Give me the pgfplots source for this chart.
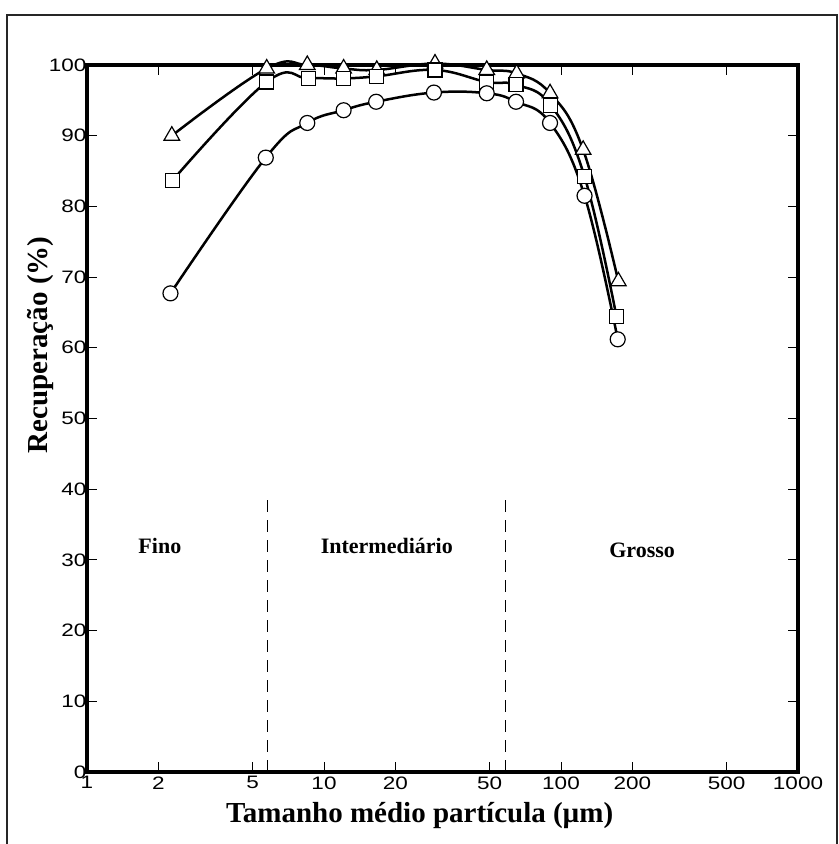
\documentclass[border=0pt]{standalone}
\usepackage{pgfplots}
\pgfplotsset{compat=1.18}
\usepackage{fontspec}
\setmainfont{Liberation Serif}
\newfontfamily\tickfont[FakeStretch=1.25]{Liberation Sans}

% Recovery (%) versus mean particle size (um), three size-class series
\pgfplotstableread{
x     y
2.28  90.0
5.73  99.5
8.5   100.0
12.1  99.5
16.7  99.3
29.4  100.2
48.6  99.3
65.0  98.8
89.9  96.0
124.0 88.0
174.6 69.4
}\tri
\pgfplotstableread{
x     y
2.30  83.7
5.73  97.6
8.6   98.1
12.1  98.1
16.7  98.4
29.4  99.3
48.6  97.6
64.6  97.2
90.6  94.3
125.7 84.2
171.5 64.4
}\sqr
\pgfplotstableread{
x     y
2.25  67.7
5.68  86.9
8.5   91.8
12.1  93.6
16.6  94.8
29.1  96.1
48.6  96.0
64.6  94.8
89.9  91.8
125.7 81.5
173.5 61.2
}\circ

\begin{document}
\begin{tikzpicture}
\begin{axis}[
  at={(87bp,72bp)}, anchor=south west,
  scale only axis, width=711bp, height=707bp,
  xmode=log, xmin=1, xmax=1000, ymin=0, ymax=100,
  xtick={1,2,5,10,20,50,100,200,500,1000},
  xticklabels={1,2,5,10,20,50,100,200,500,1000},
  ytick={0,10,...,100},
  yticklabels={0,10,20,30,40,50,60,70,80,90,100},
  minor xtick={}, minor ytick={},
  tick pos=both, tick align=inside,
  major tick length=10bp,
  major tick style={line width=1bp, black},
  axis line style={line width=3.5bp, black},
  ticklabel style={font=\tickfont\fontsize{18bp}{20bp}\selectfont},
  yticklabel style={xshift=3bp},
  xticklabel style={yshift=-1bp},
  xlabel={Tamanho médio partícula (µm)},
  ylabel={Recuperação (\%)},
  xlabel style={font=\bfseries\fontsize{29bp}{32bp}\selectfont, at={(axis description cs:0.468,-0.062)}, anchor=center},
  ylabel style={font=\bfseries\fontsize{29bp}{32bp}\selectfont, at={(axis description cs:-0.066,0.604)}, anchor=center},
  clip=false,
  every axis plot/.append style={black},
]
% class boundaries
\addplot[line width=0.8bp, dash pattern=on 12bp off 8bp] coordinates {(5.75,0) (5.75,39)};
\addplot[line width=0.8bp, dash pattern=on 12bp off 8bp] coordinates {(58,0) (58,39)};

\addplot[line width=2.5bp, smooth, tension=0.7, mark=triangle*, mark size=9bp,
  mark options={fill=white, draw=black, line width=1.2bp, solid}] table[x=x,y=y] {\tri};
\addplot[line width=2.5bp, smooth, tension=0.7, mark=square*, mark size=7bp,
  mark options={fill=white, draw=black, line width=1.2bp, solid}] table[x=x,y=y] {\sqr};
\addplot[line width=2.5bp, smooth, tension=0.7, mark=*, mark size=7.5bp,
  mark options={fill=white, draw=black, line width=1.2bp, solid}] table[x=x,y=y] {\circ};

\node[font=\bfseries\fontsize{22bp}{25bp}\selectfont] at (axis cs:2.03,32) {Fino};
\node[font=\bfseries\fontsize{22bp}{25bp}\selectfont] at (axis cs:18.4,32) {Intermediário};
\node[font=\bfseries\fontsize{22bp}{25bp}\selectfont] at (axis cs:220,31.4) {Grosso};
\end{axis}
\pgfresetboundingbox
\useasboundingbox (0bp,0bp) rectangle (839bp,844bp);
\draw[line width=1.3bp, black!85] (7bp,-10bp) -- (7bp,829bp) -- (837bp,829bp) -- (837bp,-10bp);
\end{tikzpicture}
\end{document}
